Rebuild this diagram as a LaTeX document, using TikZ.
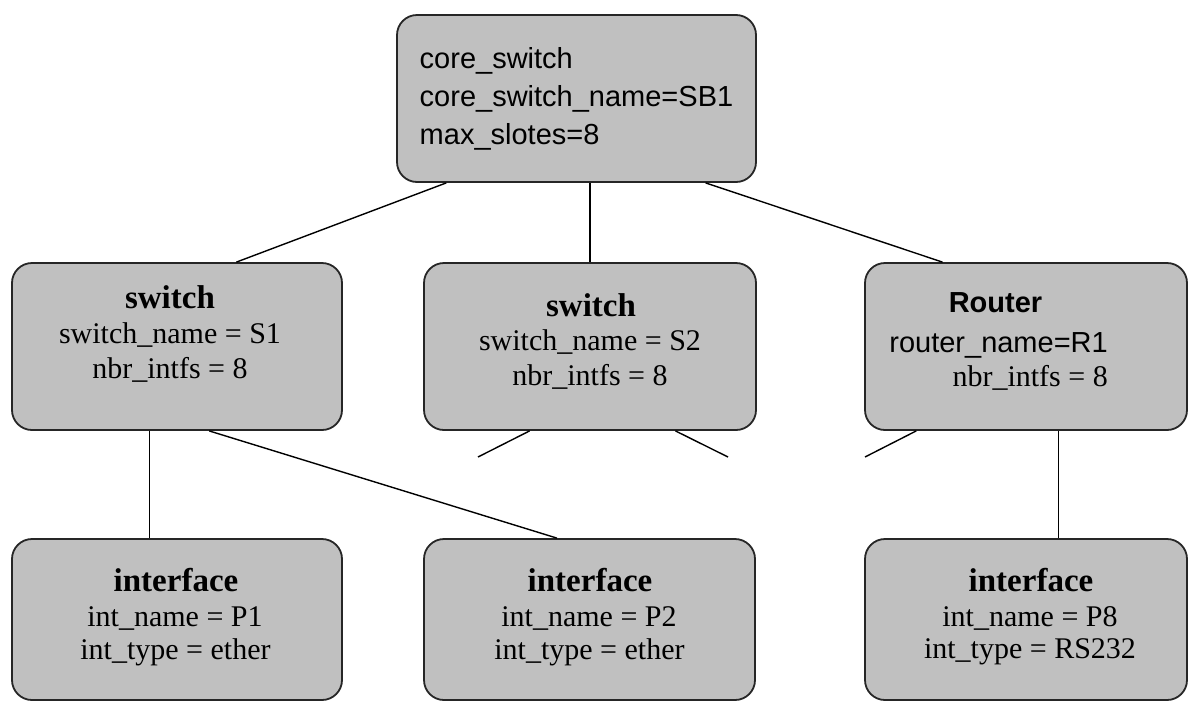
\documentclass[tikz,border=0pt]{standalone}
\usepackage{fontspec}
\setmainfont{Liberation Serif}
\newfontfamily\sansf{Liberation Sans}
\usetikzlibrary{calc}
\definecolor{boxgray}{HTML}{C0C0C0}
\tikzset{
  box/.style={draw=black!85, line width=1.8pt, fill=boxgray, rounded corners=20pt, inner sep=0pt},
  ttl/.style={font=\fontsize{33}{36}\selectfont\bfseries, inner sep=0pt},
  ttlsans/.style={font=\fontsize{29}{34}\selectfont\sansf\bfseries, inner sep=0pt},
  body/.style={font=\fontsize{30}{34}\selectfont, inner sep=0pt},
  bodysans/.style={font=\fontsize{29}{34}\selectfont\sansf, inner sep=0pt},
  link/.style={draw=black, line width=1.4pt},
}
\begin{document}
\begin{tikzpicture}[x=1pt,y=-1pt]
\useasboundingbox (0,0) rectangle (1188,702);
\fill[white] (0,0) rectangle (1188,702);
% boxes
\node[box, minimum width=359pt, minimum height=167pt, align=left,
      font=\fontsize{29}{38}\selectfont\sansf] (core) at (576.5,98.5)
  {core\_switch\\core\_switch\_name=SB1\\max\_slotes=8};
\node[box, minimum width=330pt, minimum height=167pt] (s1) at (177,346.5) {};
\node[box, minimum width=332pt, minimum height=167pt] (s2) at (590,346.5) {};
\node[box, minimum width=322pt, minimum height=167pt] (router) at (1026,346.5) {};
\node[box, minimum width=330pt, minimum height=161pt] (p1) at (177,619.5) {};
\node[box, minimum width=331pt, minimum height=161pt] (p2) at (589.5,619.5) {};
\node[box, minimum width=322pt, minimum height=161pt] (p8) at (1026,619.5) {};
% texts
\node[ttl] (s1t) at (170,297) {switch};
\node[body] (s1a) at (170,335) {switch\_name = S1};
\node[body] (s1b) at (170,370) {nbr\_intfs = 8};
\node[ttl] (s2t) at (591,305) {switch};
\node[body] (s2a) at (590,342) {switch\_name = S2};
\node[body] (s2b) at (590,377) {nbr\_intfs = 8};
\node[ttlsans] (rt) at (995.5,303) {Router};
\node[bodysans, anchor=east] (ra) at (1108,345) {router\_name=R1};
\node[body, anchor=east] (rb) at (1108,378) {nbr\_intfs = 8};
\node[ttl] (p1t) at (176,580) {interface};
\node[body] (p1a) at (175,618) {int\_name = P1};
\node[body] (p1b) at (175.5,652) {int\_type = ether};
\node[ttl] (p2t) at (590,580) {interface};
\node[body] (p2a) at (589,618) {int\_name = P2};
\node[body] (p2b) at (589.5,652) {int\_type = ether};
\node[ttl] (p8t) at (1031,580) {interface};
\node[body] (p8a) at (1030,618) {int\_name = P8};
\node[body] (p8b) at (1030,652) {int\_type = RS232};
% free ends
\coordinate (e1) at (478,457);
\coordinate (e2) at (728,457);
\coordinate (e3) at (865,457);
% connectors
\draw[link] ($(core.south west)!0.139!(core.south east)$) -- ($(s1.north west)!0.679!(s1.north east)$);
\draw[link] (s2.north |- core.south) -- (s2.north);
\draw[link] ($(core.south west)!0.858!(core.south east)$) -- ($(router.north west)!0.242!(router.north east)$);
\draw[link] ($(s1.south west)!0.418!(s1.south east)$) -- ($(p1.north west)!0.418!(p1.north east)$);
\draw[link] ($(s1.south west)!0.597!(s1.south east)$) -- ($(p2.north west)!0.402!(p2.north east)$);
\draw[link] ($(s2.south west)!0.319!(s2.south east)$) -- (e1);
\draw[link] ($(s2.south west)!0.756!(s2.south east)$) -- (e2);
\draw[link] ($(router.south west)!0.161!(router.south east)$) -- (e3);
\draw[link] ($(router.south west)!0.6!(router.south east)$) -- ($(p8.north west)!0.6!(p8.north east)$);
\end{tikzpicture}
\end{document}
